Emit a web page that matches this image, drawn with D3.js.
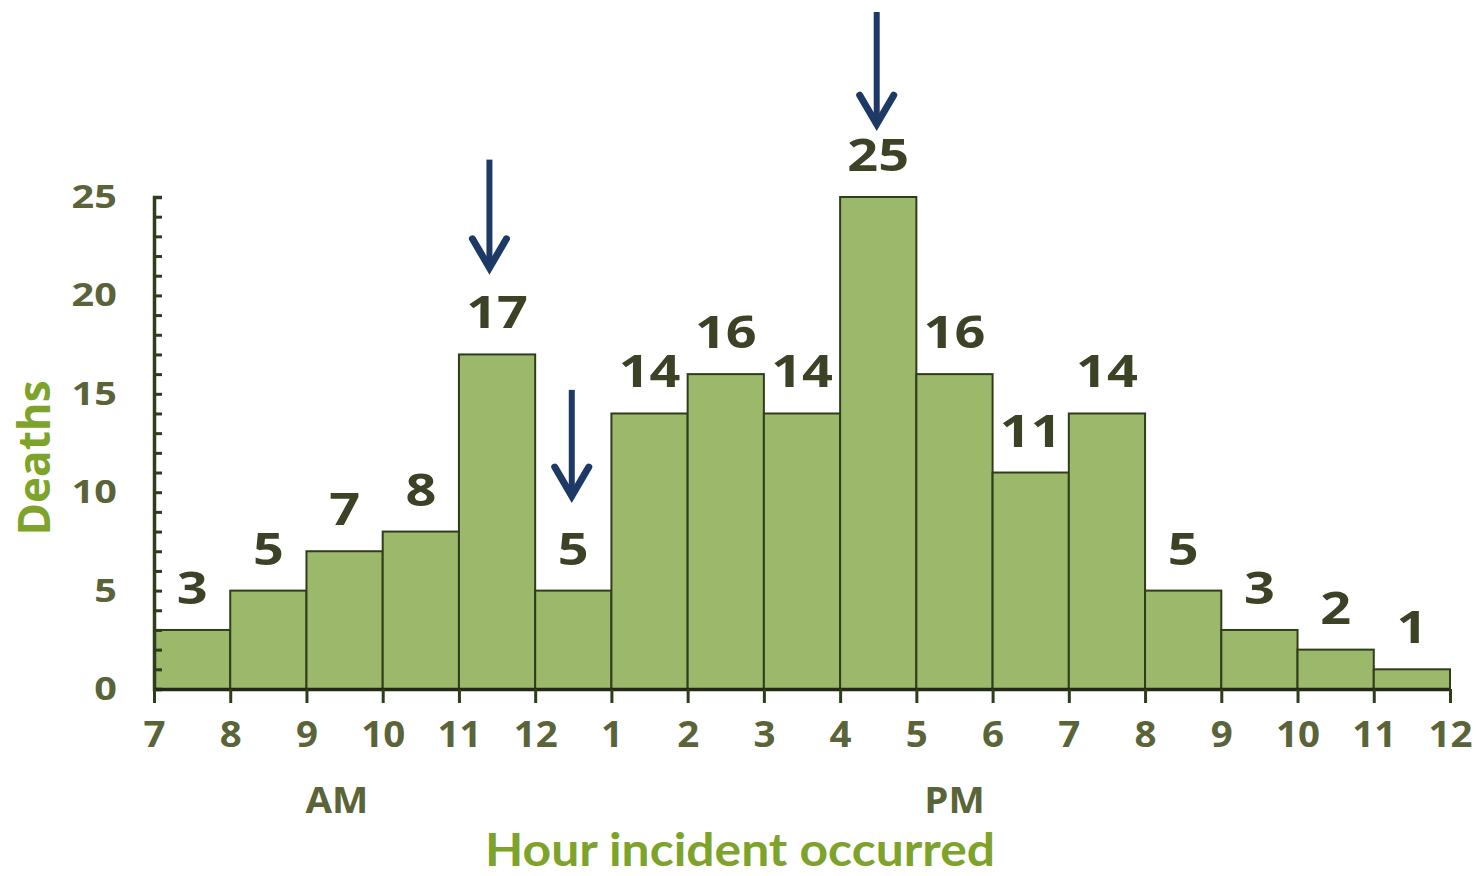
<!DOCTYPE html>
<html>
<head>
<meta charset="utf-8">
<script src="https://cdn.jsdelivr.net/npm/d3@7/dist/d3.min.js"></script>
<style>
  html, body { margin: 0; padding: 0; background: #ffffff; }
  svg { display: block; }
</style>
</head>
<body>
<svg id="chart" width="1483" height="876"></svg>
<script>
// ---- data ----
const hourLabels = ["7","8","9","10","11","12","1","2","3","4","5","6","7","8","9","10","11","12"];
const deaths = [3, 5, 7, 8, 17, 5, 14, 16, 14, 25, 16, 11, 14, 5, 3, 2, 1];
const yMajorTicks = [0, 5, 10, 15, 20, 25];
const periodLabels = [{ text: "AM", at: 2.4 }, { text: "PM", at: 10.5 }];
// arrows: position along hour axis, tail value and tip value (in deaths units)
const arrows = [
  { at: 4.4, from: 26.9, to: 21.3 },
  { at: 5.48, from: 15.2, to: 9.7 },
  { at: 9.48, from: 34.4, to: 28.6 }
];
const yTitle = "Deaths";
const xTitle = "Hour incident occurred";

// ---- layout ----
const svg = d3.select("#chart");
const x = d3.scaleLinear().domain([0, deaths.length]).range([154, 1450]);
const y = d3.scaleLinear().domain([0, 25]).range([689, 197]);

const barFill = "#9cb96b";
const barStroke = "#2f3d1c";
const tickColor = "#5a6438";
const valueColor = "#3b4225";
const titleColor = "#7ea32a";
const arrowColor = "#1d3a66";
const font = "'Open Sans', sans-serif";

// bars
svg.append("g").selectAll("rect")
  .data(deaths)
  .join("rect")
  .attr("x", (d, i) => x(i))
  .attr("y", d => y(d))
  .attr("width", (d, i) => x(i + 1) - x(i))
  .attr("height", d => y(0) - y(d))
  .attr("fill", barFill)
  .attr("stroke", barStroke)
  .attr("stroke-width", 2);

// value labels
svg.append("g").selectAll("text")
  .data(deaths)
  .join("text")
  .attr("transform", (d, i) => `translate(${(x(i) + x(i + 1)) / 2},${y(d) - 26}) scale(1.2,1)`)
  .attr("text-anchor", "middle")
  .attr("font-family", font)
  .attr("font-weight", 700)
  .attr("font-size", 45)
  .attr("fill", valueColor)
  .text(d => d);

// y axis: minor ticks
const yMinor = svg.append("g")
  .attr("transform", `translate(${x(0)},0)`)
  .call(d3.axisLeft(y).tickValues(d3.range(0, 26)).tickSizeInner(-8).tickSizeOuter(-8).tickFormat(""));
yMinor.select(".domain").attr("stroke", barStroke).attr("stroke-width", 3.5);
yMinor.selectAll(".tick line").attr("stroke", barStroke).attr("stroke-width", 3);

// y axis: labels
const yMajor = svg.append("g")
  .attr("transform", `translate(${x(0)},0)`)
  .call(d3.axisLeft(y).tickValues(yMajorTicks).tickSize(0).tickPadding(31));
yMajor.select(".domain").remove();
yMajor.selectAll("text")
  .attr("transform", "scale(1.2,1)")
  .attr("font-family", font)
  .attr("font-weight", 700)
  .attr("font-size", 33)
  .attr("fill", tickColor);

// x axis
const xAxis = svg.append("g")
  .attr("transform", `translate(0,${y(0)})`)
  .call(d3.axisBottom(x).tickValues(d3.range(hourLabels.length)).tickFormat(i => hourLabels[i]).tickSizeInner(14).tickSizeOuter(0).tickPadding(19));
xAxis.select(".domain").attr("stroke", "#222a14").attr("stroke-width", 3.5);
xAxis.selectAll(".tick line").attr("stroke", barStroke).attr("stroke-width", 3);
xAxis.selectAll("text")
  .attr("transform", "scale(1.1,1)")
  .attr("font-family", font)
  .attr("font-weight", 700)
  .attr("font-size", 35)
  .attr("fill", tickColor);

// AM / PM
svg.append("g").selectAll("text")
  .data(periodLabels)
  .join("text")
  .attr("transform", d => `translate(${x(d.at)},813) scale(1.1,1)`)
  .attr("text-anchor", "middle")
  .attr("font-family", font)
  .attr("font-weight", 700)
  .attr("font-size", 35)
  .attr("fill", tickColor)
  .text(d => d.text);

// axis titles
svg.append("text")
  .attr("transform", `translate(50,${(y(0) + y(25)) / 2 + 15}) rotate(-90)`)
  .attr("text-anchor", "middle")
  .attr("font-family", font)
  .attr("font-weight", 700)
  .attr("font-size", 44)
  .attr("fill", titleColor)
  .text(yTitle);

svg.append("text")
  .attr("x", 740)
  .attr("y", 866)
  .attr("text-anchor", "middle")
  .attr("font-family", "Lato, sans-serif")
  .attr("font-weight", 700)
  .attr("font-size", 46)
  .attr("textLength", 510)
  .attr("lengthAdjust", "spacingAndGlyphs")
  .attr("fill", titleColor)
  .text(xTitle);

// arrows
const ag = svg.append("g").attr("stroke", arrowColor).attr("fill", "none");
arrows.forEach(a => {
  const cx = x(a.at);
  const tip = y(a.to);
  ag.append("line")
    .attr("x1", cx).attr("x2", cx)
    .attr("y1", y(a.from)).attr("y2", tip - 4)
    .attr("stroke-width", 6);
  ag.append("path")
    .attr("d", `M${cx - 17},${tip - 31} L${cx},${tip - 2} L${cx + 17},${tip - 31}`)
    .attr("stroke-width", 7)
    .attr("stroke-linecap", "round")
    .attr("stroke-linejoin", "miter");
});
</script>
</body>
</html>
